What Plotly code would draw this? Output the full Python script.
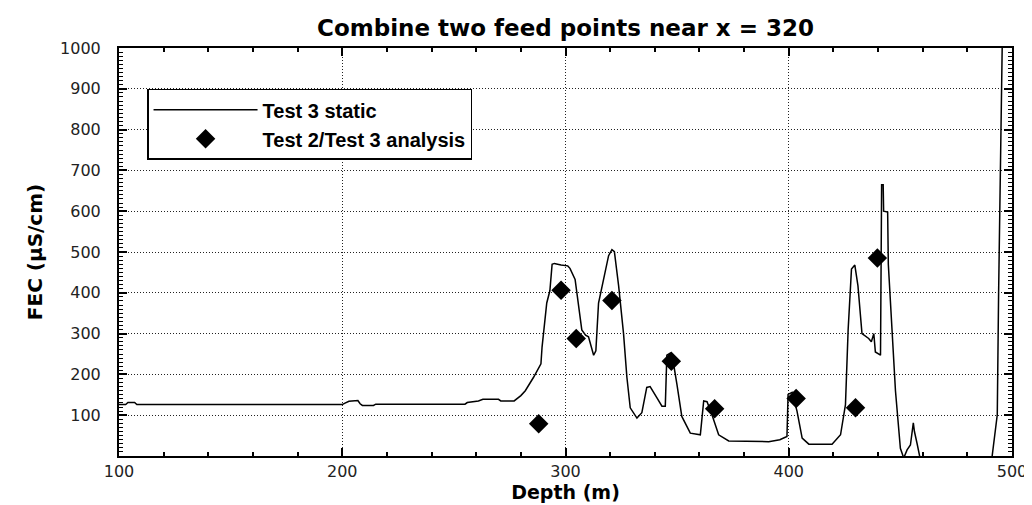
import plotly.graph_objects as go

# Test 3 static profile (depth m, FEC uS/cm)
static_depth = [100, 103, 104, 107, 108, 200, 201, 203, 207, 208, 209, 214, 215, 255, 256, 261, 263, 270,
                271, 277, 280, 282, 285.7, 289, 289.5, 291.6, 293, 294, 295, 298, 301, 302, 304.3, 305.8,
                307.3, 309, 310.3, 312.6, 313.6, 314.8, 317, 319.3, 320.8, 321.9, 323.8, 326, 327.5, 329,
                332, 334.2, 336.4, 337.9, 340.9, 343.2, 344.7, 345.4, 346.9, 348.4, 349.9, 352.1, 355.9,
                360.4, 361.9, 363.4, 365.6, 368.6, 373.1, 391, 396, 399.2, 399.7, 401.5, 403.7, 406, 409,
                419.4, 423.2, 425.4, 426.6, 428.1, 429.6, 431, 432.8, 435.8, 437, 438.1, 438.8, 441.1,
                441.6, 442.3, 442.5, 444.3, 444.6, 446.3, 447.8, 450, 451.5, 453, 454.5, 455.8, 456.3,
                457.5, 459, 470, 490, 491, 493.4, 494, 495.6, 497]
static_fec = [126, 126, 131, 131, 126, 126, 129, 134, 136, 128, 124, 124, 127, 127, 131, 135, 139, 139,
              135, 135, 148, 160, 193, 226, 267, 375, 405, 470, 472, 468, 466, 460, 433, 375,
              309, 296, 292, 247, 258, 375, 433, 491, 506, 501, 417, 300, 193, 118,
              93, 106, 168, 170, 143, 122, 122, 247, 252, 226, 176, 97, 56,
              52, 135, 133, 101, 52, 37, 35, 40, 48, 151, 156, 110, 44, 29,
              29, 52, 126, 309, 458, 468, 417, 300, 288, 280, 300, 255, 247,
              665, 665, 600, 598, 470, 292, 160, 19, -5, 15, 27, 81, 60,
              30, -10, -50, -50, -5, 101, 400, 1000, 1200]

# Test 2/Test 3 analysis points
analysis_depth = [288, 298, 304.8, 320.8, 347.4, 366.8, 403.3, 429.9, 439.7]
analysis_fec = [79, 406, 288, 381, 232, 116, 141, 118, 485]

x_ticks = [100, 200, 300, 400, 500]
y_ticks = [100, 200, 300, 400, 500, 600, 700, 800, 900, 1000]

# minor tick positions
x_minor = [v for v in range(100, 501, 20) if v % 100]
y_minor = [v for v in range(0, 1001, 10) if v % 100]

fig = go.Figure()
fig.add_trace(go.Scatter(x=static_depth, y=static_fec, mode="lines", name="Test 3 static",
                         line=dict(color="black", width=1.5)))
fig.add_trace(go.Scatter(x=analysis_depth, y=analysis_fec, mode="markers", name="Test 2/Test 3 analysis",
                         marker=dict(symbol="diamond", size=15, color="black")))

axis_common = dict(
    showline=True, linecolor="black", linewidth=2, mirror="allticks",
    ticks="inside", ticklen=8, tickwidth=1.5, tickcolor="black",
    showgrid=True, gridcolor="#222", griddash="1px,2px", gridwidth=1,
    zeroline=False,
    tickfont=dict(family="DejaVu Sans", size=16, color="#222"),
)

fig.update_xaxes(range=[100, 500], tickmode="array", tickvals=x_ticks,
                 minor=dict(tickmode="array", tickvals=x_minor, ticks="inside", ticklen=4,
                            tickwidth=1.5, tickcolor="black", showgrid=False),
                 title=dict(text="Depth (m)", standoff=4,
                            font=dict(family="DejaVu Sans", size=19, color="black", weight="bold")),
                 **axis_common)
fig.update_yaxes(range=[0, 1000], tickmode="array", tickvals=y_ticks, ticklabelstandoff=13,
                 minor=dict(tickmode="array", tickvals=y_minor, ticks="inside", ticklen=4,
                            tickwidth=1.2, tickcolor="black", showgrid=False),
                 title=dict(text="FEC (µS/cm)", standoff=12,
                            font=dict(family="DejaVu Sans", size=20, color="black", weight="bold")),
                 **axis_common)

fig.update_layout(
    width=1032, height=505,
    margin=dict(l=111, r=28, t=40, b=57),
    paper_bgcolor="white", plot_bgcolor="white",
    title=dict(text="Combine two feed points near x = 320", x=0.5, xref="paper",
               y=1 - 20 / 505, yref="container", yanchor="middle",
               font=dict(family="DejaVu Sans", size=23, color="black", weight="bold")),
    legend=dict(x=0.0314, y=0.9, xanchor="left", yanchor="top",
                bgcolor="white", bordercolor="black", borderwidth=1.5,
                itemwidth=104,
                font=dict(family="Liberation Sans", size=20, color="black", weight="bold")),
    showlegend=True,
)

fig.write_html("out.html")
